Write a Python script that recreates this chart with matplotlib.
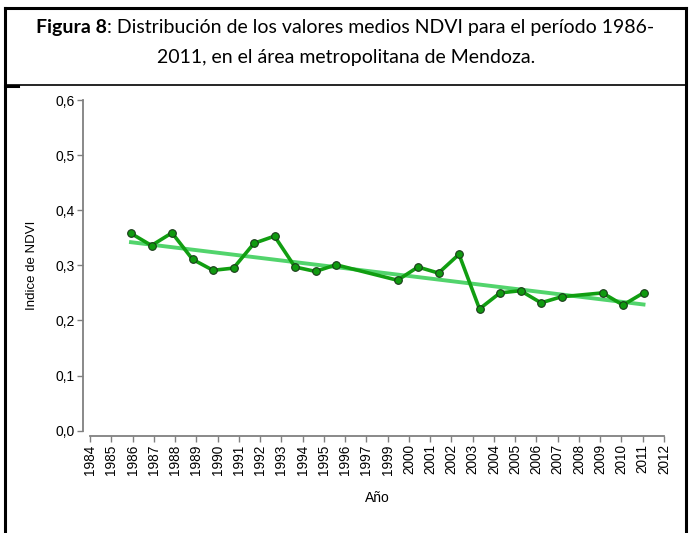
import numpy as np
import matplotlib.pyplot as plt
from matplotlib.lines import Line2D

# Datos
anios = [1986, 1987, 1988, 1989, 1990, 1991, 1992, 1993, 1994, 1995, 1996,
         1999, 2000, 2001, 2002, 2003, 2004, 2005, 2006, 2007, 2009, 2010, 2011]
ndvi = [0.358, 0.336, 0.359, 0.311, 0.291, 0.295, 0.340, 0.353, 0.297, 0.289, 0.301,
        0.273, 0.297, 0.286, 0.320, 0.221, 0.250, 0.254, 0.232, 0.243, 0.250, 0.228, 0.250]

# Linea de tendencia (extremos)
tendencia_x = [1986, 2011]
tendencia_y = [0.342, 0.229]

# Etiquetas del eje x (tal como aparecen, sin 1998)
etiquetas_x = ["1984", "1985", "1986", "1987", "1988", "1989", "1990", "1991",
               "1992", "1993", "1994", "1995", "1996", "1997", "1999", "2000",
               "2001", "2002", "2003", "2004", "2005", "2006", "2007", "2008",
               "2009", "2010", "2011", "2012"]
ticks_y = [0.0, 0.1, 0.2, 0.3, 0.4, 0.5, 0.6]

W, H = 696, 533
fig = plt.figure(figsize=(W / 100, H / 100), dpi=100)


def px(x, y):
    return x / W, 1 - y / H


# Marco de la tabla
for (x0, y0), (x1, y1), lw in [
    ((4.5, 8), (686, 8), 2.2),
    ((4.5, 8), (4.5, 533), 2.2),
    ((686, 8), (686, 533), 2.2),
    ((4.5, 85), (686, 85), 1.2),
    ((4.5, 85.5), (18, 85.5), 2.2),
]:
    a, b = px(x0, y0)
    c, d = px(x1, y1)
    fig.add_artist(Line2D([a, c], [b, d], color="black", linewidth=lw,
                          transform=fig.transFigure, solid_capstyle="projecting"))

# Titulo
fuente_titulo = "Lato"
tam_titulo = 14
ty = px(348, 27)[1]
partes = [("Figura 8", "bold"),
          (": Distribución de los valores medios NDVI para el período 1986-", "normal")]
renderer = fig.canvas.get_renderer()
anchos = []
for txt, peso in partes:
    tmp = fig.text(0, 0, txt, fontsize=tam_titulo, family=fuente_titulo, fontweight=peso)
    anchos.append(tmp.get_window_extent(renderer).width)
    tmp.remove()
x_ini = 345 - sum(anchos) / 2
for (txt, peso), ancho in zip(partes, anchos):
    fig.text(x_ini / W, ty, txt, fontsize=tam_titulo, family=fuente_titulo,
             fontweight=peso, ha="left", va="center")
    x_ini += ancho
tx2, ty2 = px(346, 57)
fig.text(tx2, ty2, "2011, en el área metropolitana de Mendoza.", fontsize=tam_titulo,
         family=fuente_titulo, ha="center", va="center")

# Area del grafico
ax = fig.add_axes([90 / W, 1 - 430.7 / H, 574 / W, 330.7 / H])
ax.plot(tendencia_x, tendencia_y, color="#52D46C", linewidth=2.8, zorder=2)
ax.plot(anios, ndvi, color="#119E11", linewidth=2.6, marker="o", markersize=5.5,
        markerfacecolor="#109A10", markeredgecolor="#1A3A1A", markeredgewidth=0.8,
        zorder=3)

for lado in ["top", "right"]:
    ax.spines[lado].set_visible(False)
ax.spines["left"].set_position(("outward", 6.7 * 72 / 100))
ax.spines["bottom"].set_position(("outward", 5.3 * 72 / 100))
for lado in ["left", "bottom"]:
    ax.spines[lado].set_color("#808080")
    ax.spines[lado].set_linewidth(1.3)

ax.set_xlim(1984, 2012)
ax.set_ylim(0, 0.6)
ax.set_xticks(np.linspace(1984, 2012, len(etiquetas_x)))
ax.set_xticklabels(etiquetas_x, rotation=90, fontsize=9.8, family="Liberation Sans")
ax.set_yticks(ticks_y)
ax.set_yticklabels([f"{v:.1f}".replace(".", ",") for v in ticks_y], fontsize=10,
                   family="Liberation Sans")
ax.tick_params(axis="both", colors="#808080", length=4, width=1, labelcolor="black", pad=2)

ax.set_xlabel("Año", fontsize=10, family="Liberation Sans", labelpad=12)
ax.set_ylabel("Indice de NDVI", fontsize=9.5, family="Liberation Sans", labelpad=13)

fig.savefig("out.png", dpi=100)
